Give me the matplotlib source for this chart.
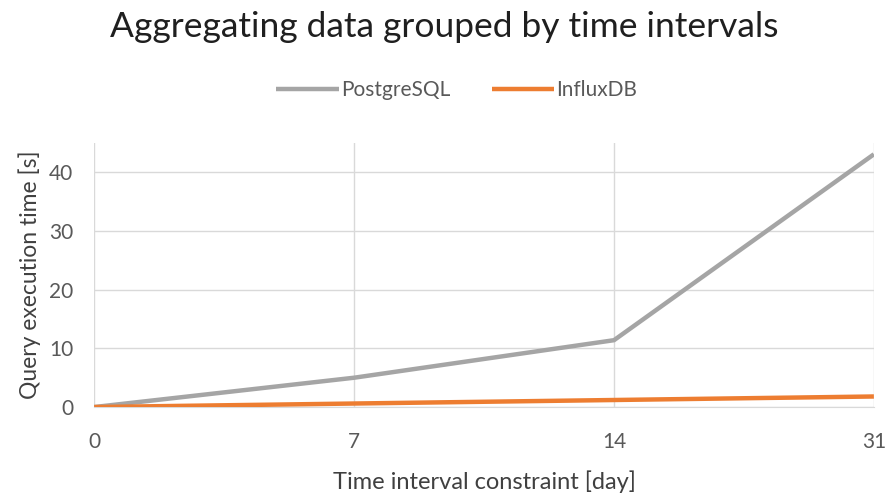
import matplotlib
matplotlib.use("Agg")
import matplotlib.pyplot as plt

# chart data
intervals = ["0", "7", "14", "31"]
postgres_times = [0.0, 5.0, 11.4, 43.1]
influx_times = [0.0, 0.6, 1.2, 1.8]

plt.rcParams["font.family"] = ["Lato", "DejaVu Sans"]

fig = plt.figure(figsize=(8.89, 4.97), dpi=100)
ax = fig.add_axes([0.106, 0.181, 0.877, 0.531])

x = range(len(intervals))
ax.plot(x, postgres_times, color="#A5A5A5", lw=3.2, solid_capstyle="butt", label="PostgreSQL", zorder=3)
ax.plot(x, influx_times, color="#ED7D31", lw=3.2, solid_capstyle="butt", label="InfluxDB", zorder=4)

ax.set_xlim(0, len(intervals) - 1)
ax.set_ylim(0, 45)
ax.set_xticks(list(x))
ax.set_xticklabels(intervals)
ax.set_yticks([0, 10, 20, 30, 40])

ax.grid(True, color="#D9D9D9", lw=1.0)
ax.set_axisbelow(True)
for side in ["top", "right", "left"]:
    ax.spines[side].set_visible(False)
ax.spines["bottom"].set_color("#D9D9D9")
ax.tick_params(length=0, labelsize=15, colors="#595959")
ax.tick_params(axis="y", pad=15)
ax.tick_params(axis="x", pad=18)

ax.set_xlabel("Time interval constraint [day]", fontsize=17, color="#404040", labelpad=13)
ax.set_ylabel("Query execution time [s]", fontsize=16.5, color="#404040", labelpad=6)

fig.suptitle("Aggregating data grouped by time intervals", fontsize=25.5, color="#1F1F1F", y=0.978)
ax.legend(loc="center", bbox_to_anchor=(0.465, 1.2), ncol=2,
          frameon=False, fontsize=15, handlelength=3.0, columnspacing=2.0, handletextpad=0.1,
          labelcolor="#595959")

fig.savefig("out.png", dpi=100)
